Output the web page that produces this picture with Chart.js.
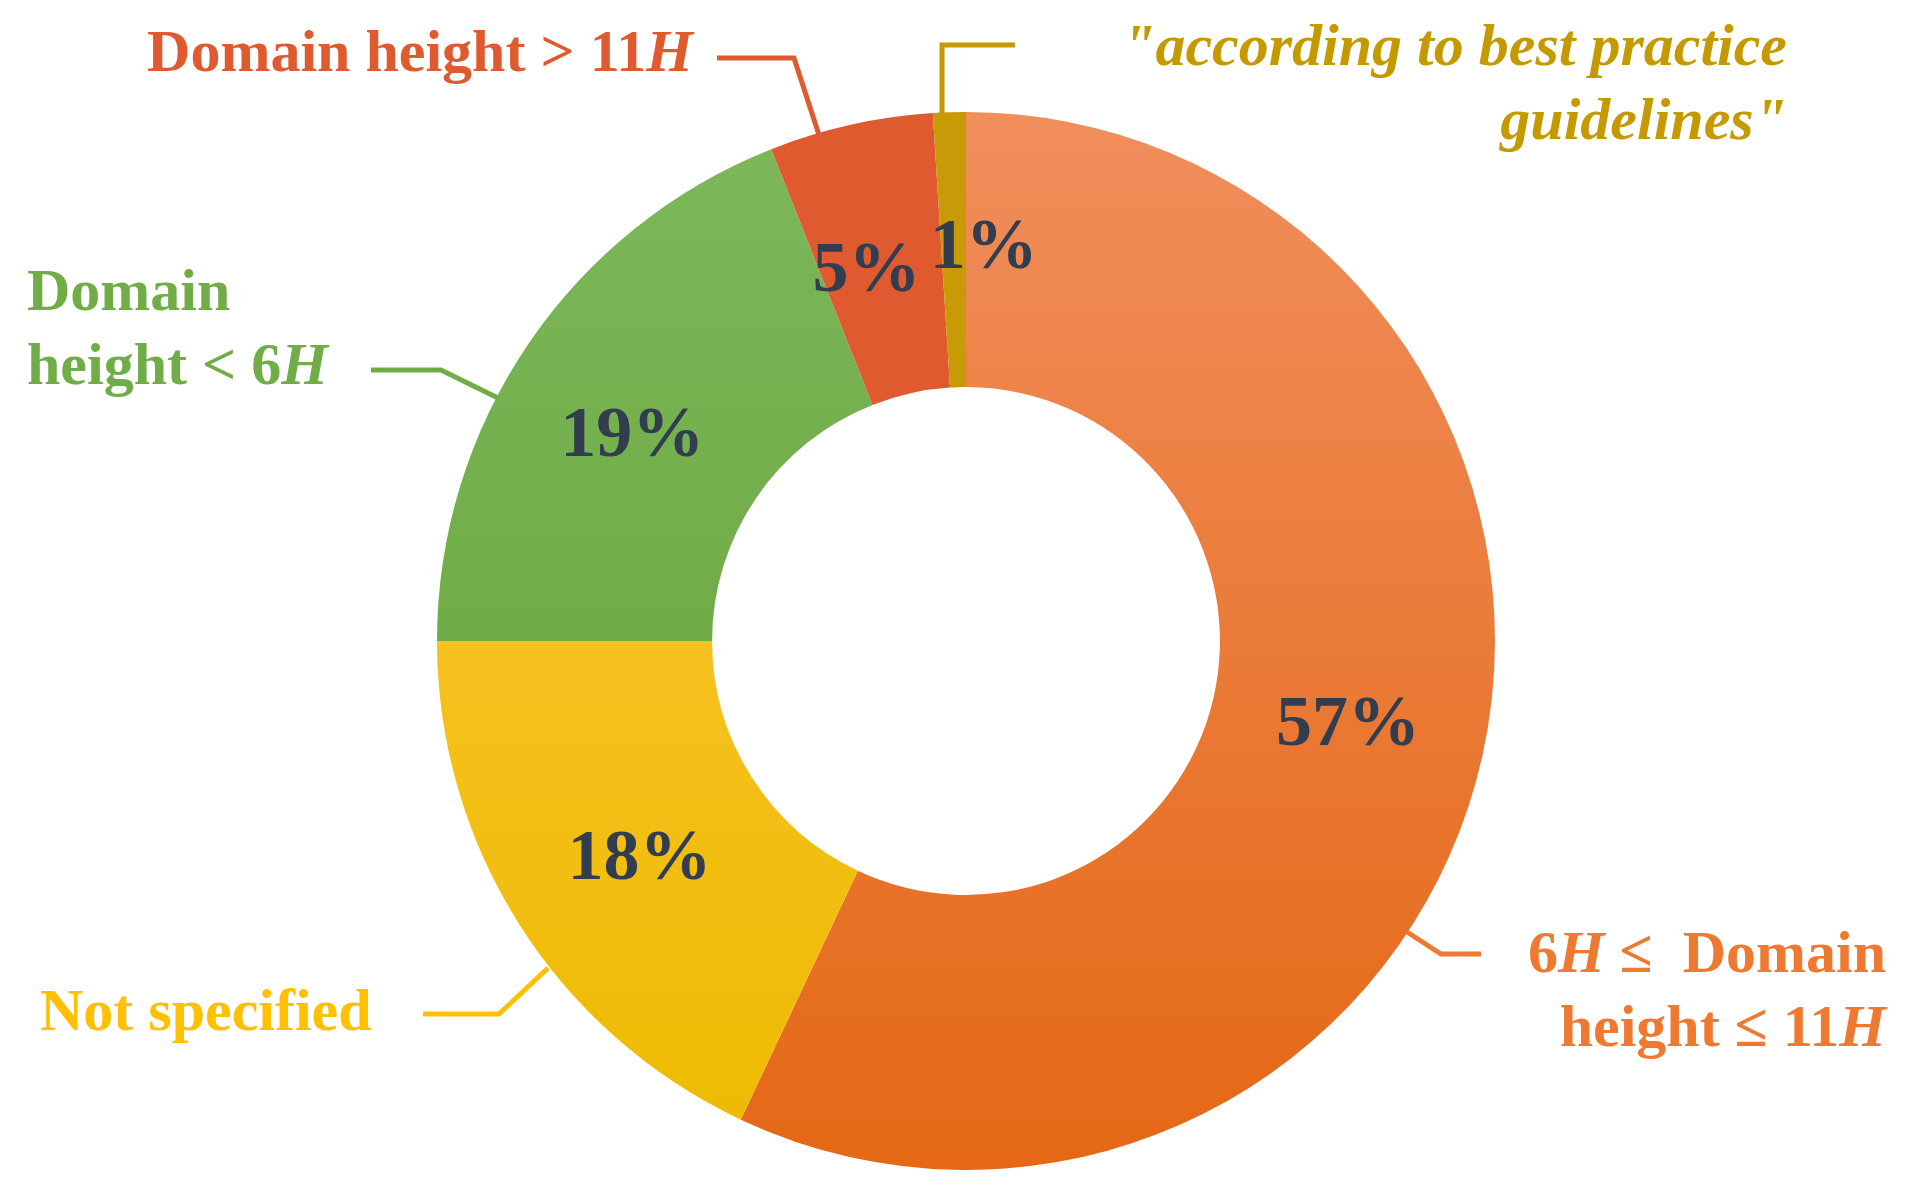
<!DOCTYPE html>
<html>
<head>
<meta charset="utf-8">
<script src="https://cdn.jsdelivr.net/npm/chart.js@4"></script>
<style>
  html, body { margin: 0; padding: 0; background: #fff; }
  #wrap { width: 1912px; height: 1187px; }
</style>
</head>
<body>
<div id="wrap"><canvas id="myChart" width="1912" height="1187"></canvas></div>
<script>
// data, clockwise from the top
const categories = ['6H ≤ Domain height ≤ 11H', 'Not specified', 'Domain height < 6H', 'Domain height > 11H', '"according to best practice guidelines"'];
const shares = [57, 18, 19, 5, 1];
const topColors = ['#F18E5C', '#FFC83C', '#7DB85C', '#E05A30', '#C89A08'];
const bottomColors = ['#E46815', '#EDBA00', '#62A030', '#E05A30', '#C89A08'];
const labelColors = ['#EE7A32', '#FFC000', '#70AD47', '#E05A30', '#C49A00'];

// percent label nudges for the thin slices
const pctNudge = [[0, 0], [4, 10], [-10, 16], [-14, 13], [30, 0]];

const pctColor = '#323E4F';
const serif = '"Liberation Serif", "DejaVu Serif", serif';

// outside labels: runs of [text, italic], anchor, leader line
const outside = [
    { lines: [[['6', 0], ['H', 1], [' ≤  Domain', 0]], [['height ≤ 11', 0], ['H', 1]]], align: 'right', x: 1886, y: [956, 1030],
      leader: [[1407, 932], [1441, 954], [1481, 954]] },
    { lines: [[['Not specified', 0]]], align: 'left', x: 40, y: [1014],
      leader: [[548, 968], [499, 1014], [423, 1014]] },
    { lines: [[['Domain', 0]], [['height < 6', 0], ['H', 1]]], align: 'left', x: 27, y: [294, 368],
      leader: [[498, 398], [441, 370], [371, 370]] },
    { lines: [[['Domain height > 11', 0], ['H', 1]]], align: 'right', x: 693, y: [55],
      leader: [[819, 135], [794, 58], [717, 58]] },
    { lines: [[['"according to best practice', 1]], [['guidelines"', 1]]], align: 'right', x: 1787, y: [49, 123],
      leader: [[942, 116], [942, 45], [1015, 45]] }
];

function fontFor(italic, size) {
    return (italic ? 'italic ' : '') + 'bold ' + size + 'px ' + serif;
}

function drawRuns(ctx, runs, x, y, align, size) {
    let total = 0;
    runs.forEach(function (r) { ctx.font = fontFor(r[1], size); total += ctx.measureText(r[0]).width; });
    let cx = align === 'right' ? x - total : x;
    ctx.textAlign = 'left';
    runs.forEach(function (r) {
        ctx.font = fontFor(r[1], size);
        ctx.fillText(r[0], cx, y);
        cx += ctx.measureText(r[0]).width;
    });
}

function sliceFill(c) {
    const i = c.dataIndex;
    const area = c.chart.chartArea;
    if (!area) return topColors[i];
    const g = c.chart.ctx.createLinearGradient(0, area.top, 0, area.bottom);
    g.addColorStop(0, topColors[i]);
    g.addColorStop(1, bottomColors[i]);
    return g;
}

const labelPlugin = {
    id: 'labels',
    afterDraw: function (chart) {
        const ctx = chart.ctx;
        const meta = chart.getDatasetMeta(0);
        ctx.save();
        ctx.textBaseline = 'middle';
        meta.data.forEach(function (arc, i) {
            const p = arc.tooltipPosition();
            ctx.fillStyle = pctColor;
            ctx.font = fontFor(false, 72);
            ctx.textAlign = 'center';
            ctx.fillText(shares[i] + '%', p.x + pctNudge[i][0], p.y + pctNudge[i][1]);

            const o = outside[i];
            ctx.strokeStyle = labelColors[i];
            ctx.lineWidth = 5;
            ctx.beginPath();
            o.leader.forEach(function (pt, k) { k ? ctx.lineTo(pt[0], pt[1]) : ctx.moveTo(pt[0], pt[1]); });
            ctx.stroke();
            ctx.fillStyle = labelColors[i];
            o.lines.forEach(function (runs, k) { drawRuns(ctx, runs, o.x, o.y[k], o.align, 60); });
        });
        ctx.restore();
    }
};

new Chart(document.getElementById('myChart'), {
    type: 'doughnut',
    data: {
        labels: categories,
        datasets: [{
            data: shares,
            backgroundColor: sliceFill,
            borderWidth: 0
        }]
    },
    options: {
        responsive: false,
        animation: false,
        cutout: '48%',
        layout: { padding: { left: 437, right: 417, top: 112, bottom: 17 } },
        plugins: { legend: { display: false }, tooltip: { enabled: false } }
    },
    plugins: [labelPlugin]
});
</script>
</body>
</html>
